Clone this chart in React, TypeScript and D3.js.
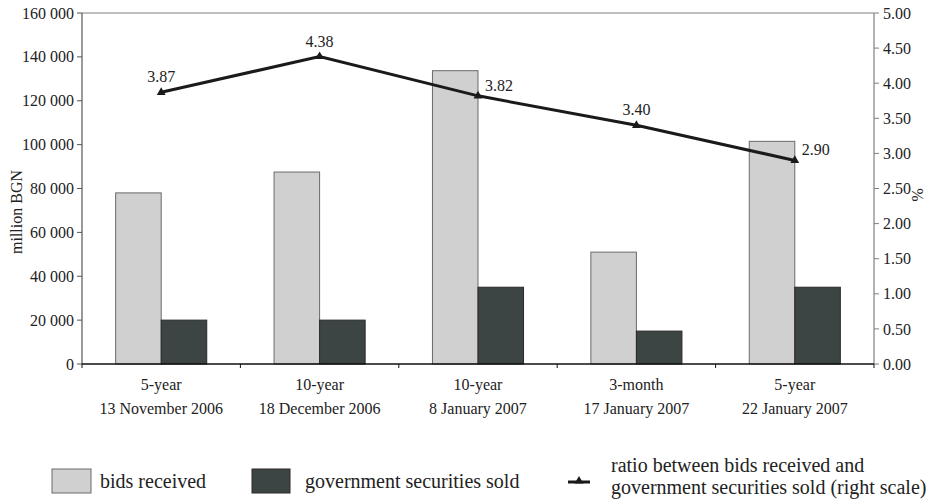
import React from "react";
import * as d3 from "d3";

const auctionType = ["5-year", "10-year", "10-year", "3-month", "5-year"];
const auctionDate = ["13 November 2006", "18 December 2006", "8 January 2007", "17 January 2007", "22 January 2007"];
const bidsReceived = [78000, 87500, 133700, 51000, 101500];
const securitiesSold = [20000, 20000, 35000, 15000, 35000];
const ratio = [3.87, 4.38, 3.82, 3.4, 2.9];
const labelSide = ["top", "top", "right", "top", "right"];
const leftTicks = [0, 20000, 40000, 60000, 80000, 100000, 120000, 140000, 160000];
const rightTicks = [0, 0.5, 1, 1.5, 2, 2.5, 3, 3.5, 4, 4.5, 5];

const W = 933;
const H = 499;
const M = { left: 82, right: 874, top: 13, bottom: 364 };
const FONT = '"Liberation Serif", "Times New Roman", "DejaVu Serif", serif';
const LIGHT = "#d0d0d0";
const DARK = "#3c4543";

export default function App() {
  const idx = auctionType.map((_, i) => i);
  const x0 = d3.scaleBand<number>().domain(idx).range([M.left, M.right]).paddingInner(0).paddingOuter(0);
  const band = x0.bandwidth();
  const pairW = band * 0.575;
  const x1 = d3.scaleBand<string>().domain(["bids", "sold"]).range([0, pairW]).padding(0);
  const yL = d3.scaleLinear().domain([0, 160000]).range([M.bottom, M.top]);
  const yR = d3.scaleLinear().domain([0, 5]).range([M.bottom, M.top]);
  const cx = (i: number) => (x0(i) as number) + band / 2;
  const fmtL = (v: number) => d3.format(",")(v).replace(/,/g, " ");
  const line = d3.line<number>().x((_, i) => cx(i)).y((d) => yR(d));
  const tri = d3.symbol().type(d3.symbolTriangle).size(34)();
  const ts = { fontFamily: FONT };

  return (
    <svg width={W} height={H} style={{ position: "absolute", left: 0, top: 0, background: "#fff", fontFamily: FONT }}>
      {/* frame */}
      <line x1={M.left} x2={M.right} y1={M.top} y2={M.top} stroke="#808080" strokeWidth={1.2} />
      <line x1={M.left} x2={M.left} y1={M.top} y2={M.bottom} stroke="#555" strokeWidth={1.2} />
      <line x1={M.right} x2={M.right} y1={M.top} y2={M.bottom} stroke="#808080" strokeWidth={1.2} />

      {/* left ticks */}
      {leftTicks.map((t) => (
        <g key={"l" + t}>
          <line x1={M.left - 5} x2={M.left} y1={yL(t)} y2={yL(t)} stroke="#555" />
          <text style={ts} x={M.left - 8} y={yL(t)} dy="0.35em" textAnchor="end" fontSize={16} fill="#222">
            {fmtL(t)}
          </text>
        </g>
      ))}
      {/* right ticks */}
      {rightTicks.map((t) => (
        <g key={"r" + t}>
          <line x1={M.right} x2={M.right + 5} y1={yR(t)} y2={yR(t)} stroke="#808080" />
          <text style={ts} x={M.right + 9} y={yR(t)} dy="0.35em" textAnchor="start" fontSize={16} fill="#222">
            {t.toFixed(2)}
          </text>
        </g>
      ))}

      <text style={ts} transform={`translate(16,212) rotate(-90)`} textAnchor="middle" dy="0.35em" fontSize={16} fill="#222">
        million BGN
      </text>
      <text style={ts} transform={`translate(918,195) rotate(90)`} textAnchor="middle" dy="0.35em" fontSize={16} fill="#222">
        %
      </text>

      {/* bars */}
      {idx.map((i) => {
        const start = cx(i) - pairW / 2;
        return (
          <g key={"b" + i}>
            <rect
              x={start + (x1("bids") as number)}
              y={yL(bidsReceived[i])}
              width={x1.bandwidth()}
              height={M.bottom - yL(bidsReceived[i])}
              fill={LIGHT}
              stroke="#6a6a6a"
              strokeWidth={1}
            />
            <rect
              x={start + (x1("sold") as number)}
              y={yL(securitiesSold[i])}
              width={x1.bandwidth()}
              height={M.bottom - yL(securitiesSold[i])}
              fill={DARK}
              stroke="#2a2a2a"
              strokeWidth={1}
            />
          </g>
        );
      })}

      {/* bottom axis */}
      <line x1={M.left} x2={M.right} y1={M.bottom} y2={M.bottom} stroke="#111" strokeWidth={1.3} />
      {idx.concat([idx.length]).map((i) => {
        const xx = i < idx.length ? (x0(i) as number) : M.right;
        return <line key={"bt" + i} x1={xx} x2={xx} y1={M.bottom} y2={M.bottom + 4} stroke="#111" />;
      })}
      {idx.map((i) => (
        <g key={"c" + i}>
          <text style={ts} x={cx(i)} y={390} textAnchor="middle" fontSize={16} fill="#222">
            {auctionType[i]}
          </text>
          <text style={ts} x={cx(i)} y={414} textAnchor="middle" fontSize={16} fill="#222">
            {auctionDate[i]}
          </text>
        </g>
      ))}

      {/* ratio line */}
      <path d={line(ratio) || ""} fill="none" stroke="#1a1a1a" strokeWidth={3} />
      {ratio.map((r, i) => (
        <path key={"m" + i} d={tri || ""} transform={`translate(${cx(i)},${yR(r)})`} fill="#1a1a1a" />
      ))}
      {ratio.map((r, i) =>
        labelSide[i] === "top" ? (
          <text style={ts} key={"t" + i} x={cx(i)} y={yR(r) - 10} textAnchor="middle" fontSize={16} fill="#222">
            {r.toFixed(2)}
          </text>
        ) : (
          <text style={ts} key={"t" + i} x={cx(i) + 7} y={yR(r) - 5} textAnchor="start" fontSize={16} fill="#222">
            {r.toFixed(2)}
          </text>
        )
      )}

      {/* legend */}
      <rect x={52} y={469} width={39} height={24} fill={LIGHT} stroke="#6a6a6a" />
      <text style={ts} x={100} y={488} fontSize={20} fill="#222">bids received</text>
      <rect x={252} y={469} width={38} height={24} fill={DARK} stroke="#2a2a2a" />
      <text style={ts} x={305} y={488} fontSize={20} fill="#222">government securities sold</text>
      <line x1={568} x2={590} y1={482} y2={482} stroke="#1a1a1a" strokeWidth={3} />
      <path d={tri || ""} transform="translate(579,481)" fill="#1a1a1a" />
      <text style={ts} x={611} y={472} fontSize={20} fill="#222">ratio between bids received and</text>
      <text style={ts} x={611} y={494} fontSize={20} fill="#222">government securities sold (right scale)</text>
    </svg>
  );
}
